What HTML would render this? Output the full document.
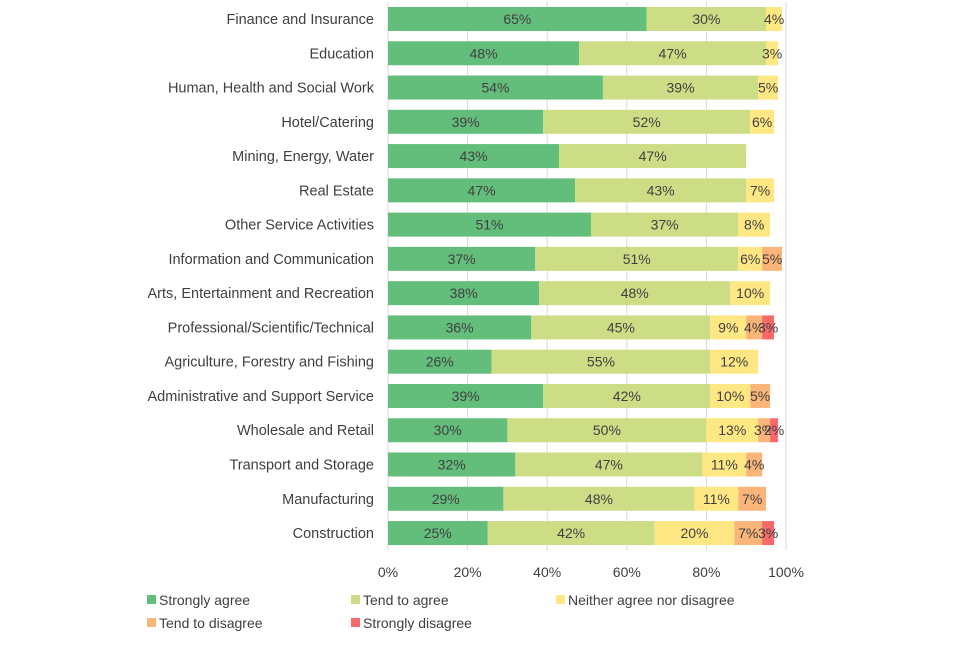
<!DOCTYPE html>
<html><head><meta charset="utf-8"><style>
body{margin:0;background:#fff;font-family:"Liberation Sans",sans-serif;}
svg text{font-family:"Liberation Sans",sans-serif;fill:#404040;}
</style></head><body>
<svg id="chart" width="960" height="640"></svg>
<script>
const categories=["Finance and Insurance","Education","Human, Health and Social Work","Hotel/Catering","Mining, Energy, Water","Real Estate","Other Service Activities","Information and Communication","Arts, Entertainment and Recreation","Professional/Scientific/Technical","Agriculture, Forestry and Fishing","Administrative and Support Service","Wholesale and Retail","Transport and Storage","Manufacturing","Construction"];
const stronglyAgree=[65,48,54,39,43,47,51,37,38,36,26,39,30,32,29,25];
const tendAgree=[30,47,39,52,47,43,37,51,48,45,55,42,50,47,48,42];
const neither=[4,3,5,6,0,7,8,6,10,9,12,10,13,11,11,20];
const tendDisagree=[0,0,0,0,0,0,0,5,0,4,0,5,3,4,7,7];
const stronglyDisagree=[0,0,0,0,0,0,0,0,0,3,0,0,2,0,0,3];
const seriesNames=["Strongly agree","Tend to agree","Neither agree nor disagree","Tend to disagree","Strongly disagree"];
const ticks=[0,20,40,60,80,100];
const colors=["#63be7b","#cddd86","#ffe883","#fbb578","#f8696b"];
const svg=document.getElementById('chart');
const NS="http://www.w3.org/2000/svg";
const x0=388,x1=786;
const xs=v=>x0+(x1-x0)*v/100;
const ys=i=>19+i*34.27;
function mk(t,a){const e=document.createElementNS(NS,t);for(const k in a)e.setAttribute(k,a[k]);svg.appendChild(e);return e;}
ticks.forEach(t=>{
 const l=mk('line',{x1:xs(t),x2:xs(t),y1:2,y2:550,stroke:'#d9d9d9','stroke-width':1});
 
 
 const tx=mk('text',{x:xs(t),y:577,'text-anchor':'middle','font-size':14});
 tx.textContent=t+'%';
 
 
});
const series=[stronglyAgree,tendAgree,neither,tendDisagree,stronglyDisagree];
categories.forEach((c,i)=>{
 const y=ys(i);
 const lab=mk('text',{x:374,y:y+5,'text-anchor':'end','font-size':14.5});
 lab.textContent=c;
 
 
 let acc=0;
 series.forEach((s,k)=>{
  const v=s[i];if(!v)return;
  const r=mk('rect',{x:xs(acc),y:y-12,width:xs(acc+v)-xs(acc),height:24,fill:colors[k]});
  
  
  const t=mk('text',{x:(xs(acc)+xs(acc+v))/2,y:y+5,'text-anchor':'middle','font-size':14});
  t.textContent=v+'%';
  
  
  acc+=v;
 });
});
const leg=[[147,600],[351,600],[556,600],[147,623],[351,623]];
seriesNames.forEach((n,k)=>{
 const r=mk('rect',{x:leg[k][0],y:leg[k][1]-5,width:9,height:9,fill:colors[k]});
 
 
 const t=mk('text',{x:leg[k][0]+12,y:leg[k][1]+5,'font-size':14});
 t.textContent=n;
 
 
});
</script>
</body></html>
